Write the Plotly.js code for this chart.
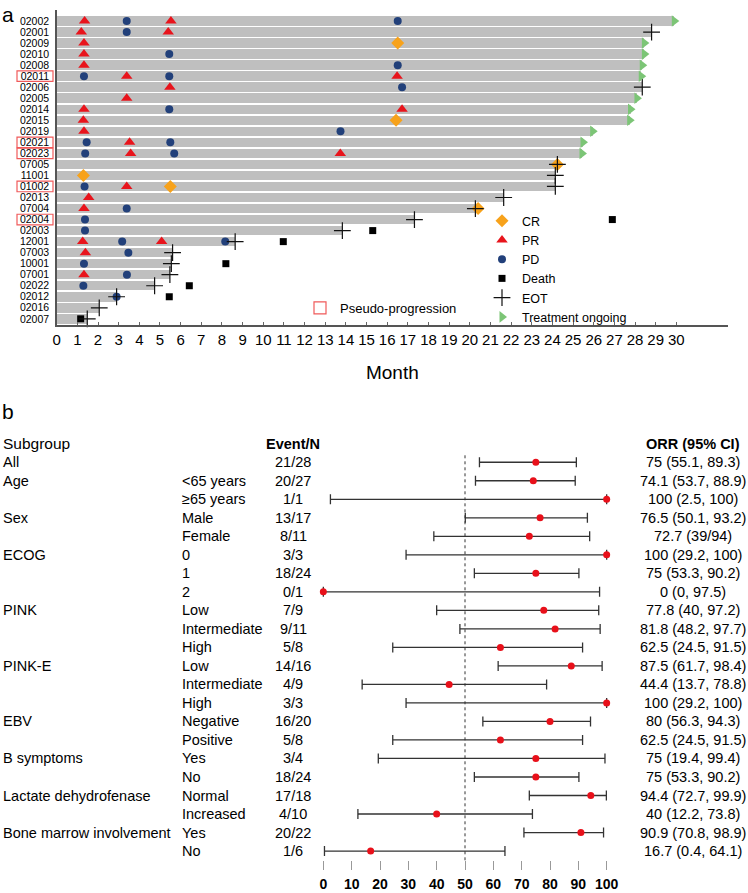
<!DOCTYPE html>
<html>
<head>
<meta charset="utf-8">
<script src="https://cdn.plot.ly/plotly-3.0.1.min.js"></script>
<style>html,body{margin:0;padding:0;background:#fff;}#chart{width:748px;height:893px;}</style>
</head>
<body>
<div id="chart"></div>
<script>
// ---------- Panel a: swimmer plot ----------
const patients = ['02002','02001','02009','02010','02008','02011','02006','02005','02014','02015','02019','02021','02023','07005','11001','01002','02013','07004','02004','02003','12001','07003','10001','07001','02022','02012','02016','02007'];
const durationMonths = [29.9,28.8,28.45,28.45,28.35,28.3,28.35,28.09,27.78,27.74,25.95,25.48,25.43,24.24,24.14,24.14,21.64,20.27,17.32,13.83,8.64,5.61,5.55,5.48,4.74,2.9,2.06,1.48];
const pseudoProgression = ['02011','02021','02023','01002','02004'];

const crPatients = ['02009','02015','07005','11001','01002','07004'];
const crMonths   = [16.51,16.43,24.24,1.29,5.5,20.4];

const prPatients = ['02002','02002','02001','02001','02009','02010','02008','02011','02011','02006','02005','02014','02014','02015','02019','02021','02023','02023','01002','02013','07004','12001','12001','07003','07001'];
const prMonths   = [1.35,5.53,1.19,5.4,1.32,1.32,1.32,3.39,16.48,5.48,3.39,1.32,16.72,1.29,1.32,3.53,3.58,13.73,3.39,1.55,1.32,1.26,5.08,1.39,1.32];

const pdPatients = ['02002','02002','02001','02010','02008','02011','02011','02006','02014','02019','02021','02021','02023','02023','01002','07004','02004','02003','12001','12001','07003','10001','07001','02022','02012'];
const pdMonths   = [3.39,16.51,3.39,5.45,16.51,1.32,5.45,16.72,5.45,13.74,1.45,5.5,1.38,5.69,1.35,3.39,1.37,1.37,3.17,8.16,3.47,1.32,3.4,1.29,2.9];

const deathPatients = ['02004','02003','12001','10001','02022','02012','02007'];
const deathMonths   = [26.9,15.3,10.97,8.19,6.42,5.45,1.16];

const eotPatients = ['02001','02006','07005','11001','01002','02013','07004','02004','02003','12001','07003','10001','07001','02022','02012','02016','02007'];
const ongoingPatients = ['02002','02009','02010','02008','02011','02005','02014','02015','02019','02021','02023'];

const monthTicks = [0,1,2,3,4,5,6,7,8,9,10,11,12,13,14,15,16,17,18,19,20,21,22,23,24,25,26,27,28,29,30];

// ---------- Panel b: forest plot ----------
const groupLabels = ['All','Age','','Sex','','ECOG','','','PINK','','','PINK-E','','','EBV','','B symptoms','','Lactate dehydrofenase','','Bone marrow involvement',''];
const levelLabels = ['','<65 years','≥65 years','Male','Female','0','1','2','Low','Intermediate','High','Low','Intermediate','High','Negative','Positive','Yes','No','Normal','Increased','Yes','No'];
const eventN = ['21/28','20/27','1/1','13/17','8/11','3/3','18/24','0/1','7/9','9/11','5/8','14/16','4/9','3/3','16/20','5/8','3/4','18/24','17/18','4/10','20/22','1/6'];
const orr   = [75,74.1,100,76.5,72.7,100,75,0,77.8,81.8,62.5,87.5,44.4,100,80,62.5,75,75,94.4,40,90.9,16.7];
const ciLow = [55.1,53.7,2.5,50.1,39,29.2,53.3,0,40,48.2,24.5,61.7,13.7,29.2,56.3,24.5,19.4,53.3,72.7,12.2,70.8,0.4];
const ciHigh= [89.3,88.9,100,93.2,94,100,90.2,97.5,97.2,97.7,91.5,98.4,78.8,100,94.3,91.5,99.4,90.2,99.9,73.8,98.9,64.1];
const orrText = ['75 (55.1, 89.3)','74.1 (53.7, 88.9)','100 (2.5, 100)','76.5 (50.1, 93.2)','72.7 (39/94)','100 (29.2, 100)','75 (53.3, 90.2)','0 (0, 97.5)','77.8 (40, 97.2)','81.8 (48.2, 97.7)','62.5 (24.5, 91.5)','87.5 (61.7, 98.4)','44.4 (13.7, 78.8)','100 (29.2, 100)','80 (56.3, 94.3)','62.5 (24.5, 91.5)','75 (19.4, 99.4)','75 (53.3, 90.2)','94.4 (72.7, 99.9)','40 (12.2, 73.8)','90.9 (70.8, 98.9)','16.7 (0.4, 64.1)'];
const orrTicks = [0,10,20,30,40,50,60,70,80,90,100];
const referenceLine = 50;

// ---------- build ----------
const FONT = 'Liberation Sans, Arial, Helvetica, sans-serif';
const durOf = p => durationMonths[patients.indexOf(p)];

const traces = [];
traces.push({
  type:'bar', orientation:'h', y:patients, x:durationMonths, base:0,
  marker:{color:'#bfbfbf', line:{width:0}}, width:0.86,
  showlegend:false, hoverinfo:'skip', xaxis:'x', yaxis:'y'
});
traces.push({type:'scatter', mode:'markers', name:'CR', x:crMonths, y:crPatients,
  marker:{symbol:'diamond', size:10, color:'#f7a21b'}, xaxis:'x', yaxis:'y', cliponaxis:false});
traces.push({type:'scatter', mode:'markers', name:'PR', x:prMonths, y:prPatients,
  marker:{symbol:'triangle-up', size:10, color:'#e8141c'}, xaxis:'x', yaxis:'y', cliponaxis:false});
traces.push({type:'scatter', mode:'markers', name:'PD', x:pdMonths, y:pdPatients,
  marker:{symbol:'circle', size:8, color:'#22407a'}, xaxis:'x', yaxis:'y', cliponaxis:false});
traces.push({type:'scatter', mode:'markers', name:'Death', x:deathMonths, y:deathPatients,
  marker:{symbol:'square', size:7, color:'#000'}, xaxis:'x', yaxis:'y', cliponaxis:false});
traces.push({type:'scatter', mode:'markers', name:'EOT', x:eotPatients.map(durOf), y:eotPatients,
  marker:{symbol:'cross-thin-open', size:12, color:'#111', line:{width:1.2, color:'#111'}}, xaxis:'x', yaxis:'y', cliponaxis:false});
traces.push({type:'scatter', mode:'markers', name:'Treatment ongoing', x:ongoingPatients.map(durOf), y:ongoingPatients,
  marker:{symbol:'triangle-right', size:10, color:'#7cc576'}, xaxis:'x', yaxis:'y', cliponaxis:false});

// forest
const rows = orr.map((_, i) => i);
traces.push({type:'scatter', mode:'markers', x:orr, y:rows, xaxis:'x2', yaxis:'y2',
  showlegend:false, cliponaxis:false,
  marker:{symbol:'circle', size:7, color:'#e8101a'},
  error_x:{type:'data', symmetric:false,
    array: ciHigh.map((h,i)=>h-orr[i]), arrayminus: orr.map((o,i)=>o-ciLow[i]),
    color:'#333', thickness:1.3, width:5}
});

const W = 748, H = 893;
const px = v => v / W;
const py = v => 1 - v / H;

const annotations = [];
annotations.push({text:'a', xref:'paper', yref:'paper', x:px(0), y:py(1), xanchor:'left', yanchor:'top', showarrow:false, font:{family:FONT, size:21, color:'#000'}});
annotations.push({text:'b', xref:'paper', yref:'paper', x:px(0), y:py(411), xanchor:'left', yanchor:'middle', showarrow:false, font:{family:FONT, size:21, color:'#000'}});

const tf = {family:FONT, size:14.5, color:'#000'};
annotations.push({text:'Subgroup', xref:'paper', yref:'paper', x:px(1), y:py(444), xanchor:'left', yanchor:'middle', showarrow:false, font:{family:FONT, size:15.5, color:'#000'}});
annotations.push({text:'<b>Event/N</b>', xref:'paper', yref:'paper', x:px(293), y:py(444), xanchor:'center', yanchor:'middle', showarrow:false, font:tf});
annotations.push({text:'<b>ORR (95% CI)</b>', xref:'paper', yref:'paper', x:px(693), y:py(444), xanchor:'center', yanchor:'middle', showarrow:false, font:tf});
rows.forEach(i => {
  if (groupLabels[i]) annotations.push({text:groupLabels[i], xref:'paper', yref:'y2', x:px(1), y:i, xanchor:'left', yanchor:'middle', showarrow:false, font:tf});
  if (levelLabels[i]) annotations.push({text:levelLabels[i], xref:'paper', yref:'y2', x:px(180), y:i, xanchor:'left', yanchor:'middle', showarrow:false, font:tf});
  annotations.push({text:eventN[i], xref:'paper', yref:'y2', x:px(293), y:i, xanchor:'center', yanchor:'middle', showarrow:false, font:tf});
  annotations.push({text:orrText[i], xref:'paper', yref:'y2', x:px(693), y:i, xanchor:'center', yanchor:'middle', showarrow:false, font:tf});
});

const shapes = [];
pseudoProgression.forEach((p, k) => {
  const idx = patients.indexOf(p);
  shapes.push({type:'rect', xref:'paper', yref:'y', x0:px(17), x1:px(53), y0:idx-0.48, y1:idx+0.48,
    line:{color:'#f05a5a', width:1.2}, fillcolor:'rgba(0,0,0,0)', layer:'above',
    showlegend: k === 0, legend:'legend2', name:'Pseudo-progression'});
});
shapes.push({type:'line', xref:'x2', yref:'y2 domain', x0:referenceLine, x1:referenceLine, y0:0, y1:1,
  line:{color:'#333', width:1, dash:'dot'}});

const layout = {
  width:W, height:H, margin:{l:0, r:0, t:0, b:0},
  paper_bgcolor:'#fff', plot_bgcolor:'rgba(0,0,0,0)',
  font:{family:FONT, color:'#000'},
  bargap:0,
  xaxis:{domain:[px(56.7), px(728)], range:[0,32.5], anchor:'y',
    tickmode:'array', tickvals:monthTicks, ticktext:monthTicks.map(String),
    ticks:'inside', ticklen:3, tickcolor:'#666',
    showline:true, linecolor:'#555', linewidth:1.5, showgrid:false, zeroline:false,
    tickfont:{family:FONT, size:15, color:'#000'},
    title:{text:'Month', font:{family:FONT, size:19, color:'#000'}, standoff:19}},
  yaxis:{domain:[py(325), py(10)], type:'category', categoryorder:'array', categoryarray:patients,
    tickmode:'array', tickvals:patients, ticktext:patients,
    range:[27.56, -1.0], autorange:false, anchor:'x',
    showline:true, linecolor:'#555', linewidth:1.5, showgrid:false, zeroline:false, ticks:'',
    tickfont:{family:FONT, size:10.5, color:'#000'}, ticklabelstandoff:4},
  xaxis2:{domain:[px(320.5), px(609.5)], range:[-1,101], anchor:'y2',
    tickmode:'array', tickvals:orrTicks, ticktext:orrTicks.map(String),
    ticks:'outside', ticklen:9, tickcolor:'#999', tickwidth:1,
    showline:false, showgrid:false, zeroline:false, ticklabelstandoff:2,
    tickfont:{family:FONT, size:14, color:'#000', weight:'bold'}},
  yaxis2:{domain:[py(860.3), py(453)], range:[21.5,-0.5], autorange:false, anchor:'x2',
    showline:false, showgrid:false, zeroline:false, showticklabels:false, ticks:''},
  showlegend:true,
  legend:{x:px(482), y:py(206), xanchor:'left', yanchor:'top', bgcolor:'rgba(0,0,0,0)', borderwidth:0,
    font:{family:FONT, size:12.5, color:'#000'}, traceorder:'normal'},
  legend2:{x:px(300), y:py(293), xanchor:'left', yanchor:'top', bgcolor:'rgba(0,0,0,0)', borderwidth:0,
    font:{family:FONT, size:13, color:'#000'}},
  annotations: annotations,
  shapes: shapes
};

Plotly.newPlot('chart', traces, layout, {displayModeBar:false, staticPlot:true});
</script>
</body>
</html>
